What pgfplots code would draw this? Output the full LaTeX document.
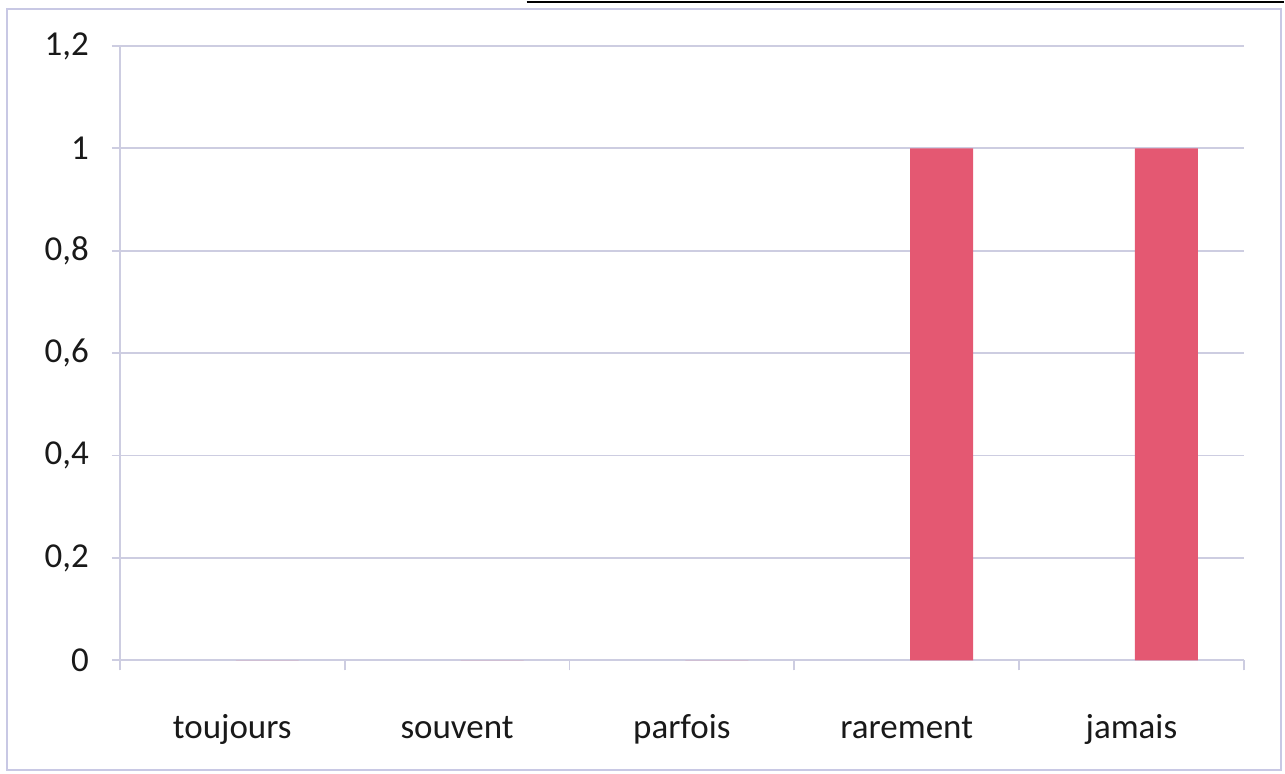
\documentclass[border=0pt]{standalone}
\usepackage{pgfplots}
\pgfplotsset{compat=1.18}
\usepackage{fontspec}
\setmainfont{Carlito}
\definecolor{barred}{RGB}{228,88,114}
\definecolor{gridc}{RGB}{205,205,225}
\definecolor{framec}{RGB}{200,200,228}
\begin{document}
\begin{tikzpicture}[x=0.5pt,y=0.5pt]
\fill[white] (0,0) rectangle (1285,774);
\draw[framec, line width=0.8pt] (7,3) rectangle (1282,765);
\draw[black, line width=1.2pt] (527,772) -- (1285,772);
\begin{axis}[
  at={(60pt,56.5pt)}, anchor=south west,
  scale only axis, width=562.5pt, height=307.5pt,
  xmin=-0.5, xmax=4.5, ymin=0, ymax=1.2,
  axis x line=bottom, axis y line=left,
  axis line style={gridc, line width=0.9pt, -},
  xtick={0,1,2,3,4},
  xticklabels={toujours,souvent,parfois,rarement,jamais},
  minor xtick={-0.5,0.5,1.5,2.5,3.5,4.5},
  major x tick style={draw=none},
  minor tick length=5pt,
  minor x tick style={gridc, line width=0.9pt},
  ytick={0,0.2,0.4,0.6,0.8,1,1.2},
  yticklabels={0,{0,2},{0,4},{0,6},{0,8},1,{1,2}},
  major tick length=4pt,
  ytick style={gridc, line width=0.9pt},
  tick align=outside,
  ymajorgrids, major grid style={gridc, line width=0.9pt},
  xticklabel style={font=\fontsize{17.5}{20}\selectfont, text=black!90, anchor=base, yshift=-35pt},
  yticklabel style={font=\fontsize{17.5}{20}\selectfont, text=black!90, xshift=-8pt},
  ybar, bar width=31.5pt, bar shift=17.5pt,
]
\addplot[fill=barred, draw=none] coordinates {(0,0) (1,0) (2,0) (3,1) (4,1)};
\end{axis}
\end{tikzpicture}
\end{document}
